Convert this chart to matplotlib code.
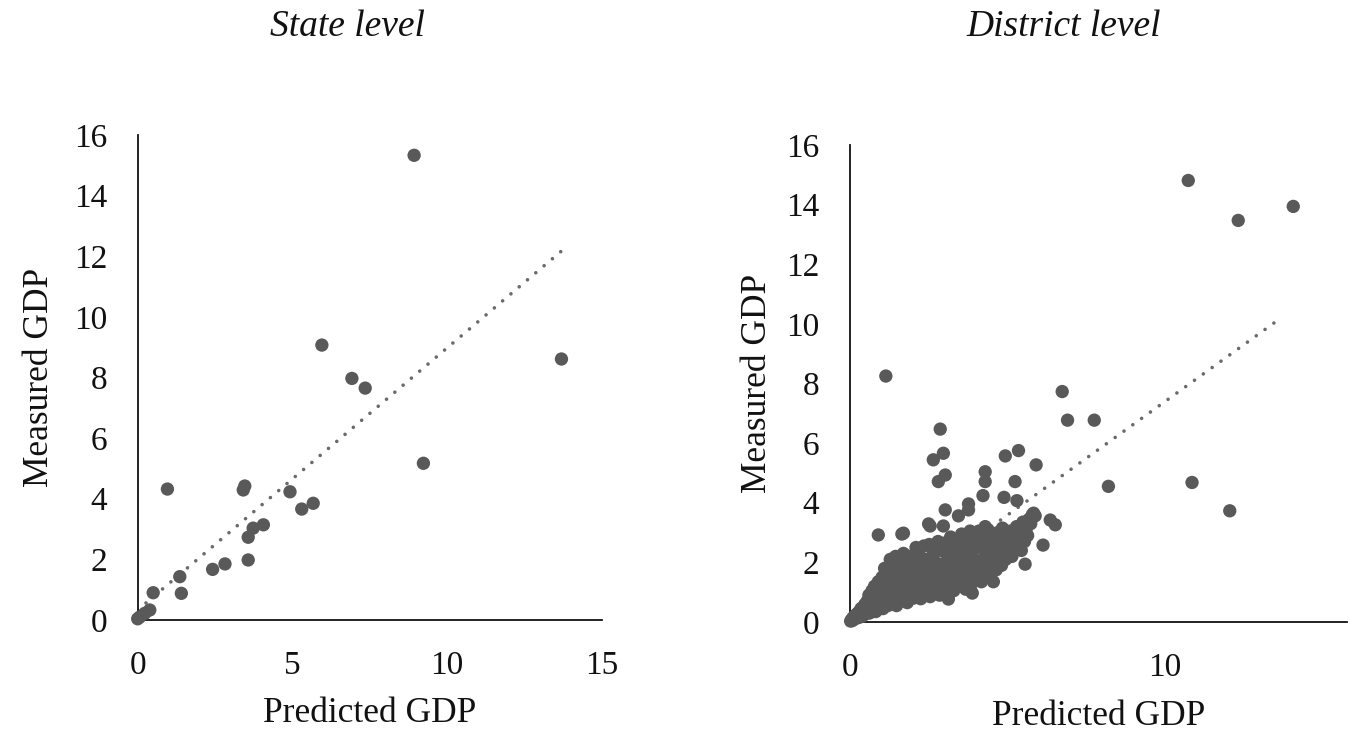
import matplotlib
matplotlib.use("Agg")
import matplotlib.pyplot as plt
import numpy as np

plt.rcParams['font.family'] = ['Liberation Serif', 'DejaVu Serif']

# ---------------- State level data ----------------
state_pred = [8.93, 13.69, 5.95, 6.92, 7.35, 9.23, 0.96, 3.46, 3.41, 4.92, 5.30, 5.67,
              4.06, 3.73, 3.57, 3.57, 2.82, 2.42, 1.36, 1.41, 0.50, 0.39, 0.23, 0.07, 0.0]
state_meas = [15.33, 8.61, 9.07, 7.97, 7.65, 5.17, 4.32, 4.42, 4.29, 4.23, 3.66, 3.85,
              3.14, 3.03, 2.73, 1.98, 1.85, 1.67, 1.43, 0.88, 0.90, 0.33, 0.22, 0.10, 0.04]
state_trend_slope = 0.865
state_trend_intercept = 0.33
state_trend_x = [0.0, 13.69]

# ---------------- District level data ----------------
district_pred = [
    # outliers / sparse points
    10.76, 12.35, 14.10, 1.14, 6.75, 6.92, 7.77, 8.22, 10.88, 12.08,
    2.87, 2.65, 2.97, 2.81, 3.03, 4.94, 5.36, 5.92, 4.30, 4.30, 5.25, 4.23, 4.90, 5.31,
    3.77, 3.77, 3.03, 3.45, 2.55, 2.97, 4.30, 5.84, 5.89, 6.37, 6.53, 6.14, 5.57, 4.56,
    3.13, 3.89, 0.90, 1.65, 1.70, 2.50,
    # dense cluster, band 0-0.5
    0.02, 0.05, 0.08, 0.10, 0.12, 0.15, 0.18, 0.20, 0.22, 0.25, 0.28, 0.30, 0.32, 0.35,
    0.38, 0.40, 0.42, 0.45, 0.48, 0.50,
    # band 0.5-1.0
    0.55, 0.58, 0.60, 0.62, 0.65, 0.70, 0.72, 0.75, 0.78, 0.80, 0.82, 0.85, 0.88, 0.90,
    0.92, 0.95, 0.98, 1.00,
    # band 1.0-1.5
    1.02, 1.05, 1.08, 1.10, 1.12, 1.15, 1.20, 1.22, 1.25, 1.28, 1.30, 1.32, 1.35, 1.38,
    1.40, 1.42, 1.45, 1.48, 1.50,
    # band 1.5-2.0
    1.52, 1.55, 1.58, 1.60, 1.65, 1.68, 1.70, 1.72, 1.75, 1.80, 1.82, 1.85, 1.88, 1.90,
    1.95, 1.98,
    # band 2.0-2.5
    2.00, 2.02, 2.05, 2.10, 2.12, 2.15, 2.20, 2.22, 2.25, 2.30, 2.32, 2.35, 2.40, 2.42,
    2.45, 2.48,
    # band 2.5-3.0
    2.52, 2.55, 2.58, 2.60, 2.65, 2.68, 2.70, 2.72, 2.78, 2.80, 2.82, 2.85, 2.90, 2.92,
    2.95, 2.98,
    # band 3.0-3.5
    3.02, 3.05, 3.10, 3.12, 3.18, 3.20, 3.22, 3.28, 3.30, 3.35, 3.38, 3.42, 3.45, 3.48,
    # band 3.5-4.0
    3.52, 3.55, 3.60, 3.62, 3.68, 3.70, 3.75, 3.78, 3.82, 3.85, 3.88, 3.92, 3.95, 3.98,
    # band 4.0-4.5
    4.02, 4.05, 4.10, 4.12, 4.18, 4.20, 4.25, 4.30, 4.35, 4.38, 4.42, 4.45, 4.48,
    # band 4.5-5.0
    4.52, 4.55, 4.60, 4.65, 4.70, 4.72, 4.78, 4.82, 4.85, 4.90, 4.95, 4.98,
    # band 5.0-5.8
    5.02, 5.05, 5.10, 5.15, 5.20, 5.25, 5.30, 5.35, 5.40, 5.45, 5.50, 5.55, 5.60, 5.65,
    5.70, 5.75, 5.80,
]
district_meas = [
    14.81, 13.47, 13.94, 8.25, 7.73, 6.77, 6.77, 4.55, 4.68, 3.73,
    6.47, 5.44, 5.66, 4.71, 4.93, 5.57, 5.75, 5.27, 5.04, 4.71, 4.71, 4.24, 4.18, 4.07,
    3.96, 3.76, 3.76, 3.56, 3.22, 3.22, 3.20, 3.65, 3.56, 3.42, 3.26, 2.58, 1.94, 1.35,
    0.77, 0.97, 2.92, 2.95, 2.98, 3.29,
    0.03, 0.08, 0.05, 0.15, 0.10, 0.20, 0.12, 0.25, 0.18, 0.30, 0.15, 0.35, 0.22, 0.45,
    0.30, 0.20, 0.50, 0.38, 0.60, 0.28,
    0.70, 0.45, 0.90, 0.30, 0.60, 1.05, 0.40, 0.80, 1.20, 0.55, 0.35, 1.00, 0.70, 1.35,
    0.45, 0.85, 1.15, 0.60,
    1.50, 0.45, 1.00, 1.80, 0.75, 1.30, 0.55, 1.60, 0.90, 2.10, 1.15, 0.60, 1.45, 1.85,
    0.80, 1.10, 2.20, 0.55, 1.60,
    0.95, 1.30, 2.00, 0.70, 1.75, 1.10, 2.30, 0.85, 1.45, 1.95, 0.65, 1.20, 2.20, 1.60,
    0.90, 1.35,
    2.00, 0.80, 1.15, 2.50, 1.70, 0.95, 1.40, 2.20, 0.78, 1.85, 1.10, 2.55, 1.55, 0.90,
    2.10, 1.30,
    2.60, 0.85, 1.75, 1.05, 2.30, 1.45, 0.95, 2.00, 1.20, 2.70, 1.65, 0.90, 2.40, 1.35,
    1.95, 1.05,
    2.65, 1.55, 1.15, 2.20, 1.80, 2.85, 1.30, 2.45, 1.05, 1.95, 1.50, 2.75, 1.20, 2.20,
    1.75, 2.95, 1.35, 2.40, 1.10, 2.05, 2.70, 1.55, 3.05, 1.25, 2.25, 1.80, 2.85, 1.40,
    2.50, 1.65, 3.05, 2.05, 1.35, 2.75, 1.85, 2.35, 1.55, 3.10, 2.10, 2.60, 1.75,
    2.85, 2.00, 2.40, 1.75, 3.00, 2.20, 2.65, 1.90, 3.15, 2.40, 2.10, 2.85,
    2.30, 2.60, 3.05, 2.20, 2.80, 2.45, 3.20, 2.60, 2.95, 2.40, 3.35, 2.70, 3.10, 2.90,
    3.45, 3.30, 3.60,
]
district_trend_slope = 0.76
district_trend_intercept = -0.22
district_trend_x = [0.3, 13.52]

TITLES = ["State level", "District level"]
X_LABEL = "Predicted GDP"
Y_LABEL = "Measured GDP"

MARK = '#595959'
TREND = '#6a6a6a'

fig = plt.figure(figsize=(13.53, 7.31), dpi=100)
W, H = 1353, 731

def px_axes(x0, x1, ytop, ybot):
    return fig.add_axes([x0 / W, 1 - ybot / H, (x1 - x0) / W, (ybot - ytop) / H])

ax1 = px_axes(137.7, 602.0, 135, 620)
ax2 = px_axes(850.0, 1346.7, 145, 622)

def style(ax, xmax, xticks, xlab_y, ylab_x):
    ax.set_xlim(0, xmax)
    ax.set_ylim(0, 16)
    ax.set_xticks(xticks)
    ax.set_yticks(np.arange(0, 17, 2))
    for s in ['top', 'right']:
        ax.spines[s].set_visible(False)
    for s in ['left', 'bottom']:
        ax.spines[s].set_linewidth(1.3)
        ax.spines[s].set_color('#111111')
    ax.tick_params(axis='both', length=0, labelsize=24, colors='#111111')
    ax.tick_params(axis='y', pad=22)
    ax.tick_params(axis='x', pad=22)
    ax.set_xlabel(X_LABEL, fontsize=25.5, color='#111111')
    ax.set_ylabel(Y_LABEL, fontsize=25.5, color='#111111')
    ax.xaxis.set_label_coords(0.5, xlab_y)
    ax.yaxis.set_label_coords(ylab_x, 0.5)
    ax.xaxis.label.set_va('center')
    ax.yaxis.label.set_va('center')

style(ax1, 15, [0, 5, 10, 15], -0.192, -0.212)
style(ax2, 15.8, [0, 10], -0.199, -0.187)

for ax, xs, ys, sl, ic, tx in [
    (ax1, state_pred, state_meas, state_trend_slope, state_trend_intercept, state_trend_x),
    (ax2, district_pred, district_meas, district_trend_slope, district_trend_intercept, district_trend_x),
]:
    ax.scatter(xs, ys, s=92, color=MARK, edgecolors='none', clip_on=False, zorder=3)
    tx = np.array(tx)
    ax.plot(tx, ic + sl * tx, color=TREND, lw=2.6, linestyle=(0, (0.01, 3.0)),
            dash_capstyle='round', zorder=2)

fig.text(347 / W, 1 - 27 / H, TITLES[0], fontsize=27, style='italic',
         ha='center', va='center', color='#111111')
fig.text(1064 / W, 1 - 27 / H, TITLES[1], fontsize=27, style='italic',
         ha='center', va='center', color='#111111')

fig.savefig('out.png', dpi=100)
